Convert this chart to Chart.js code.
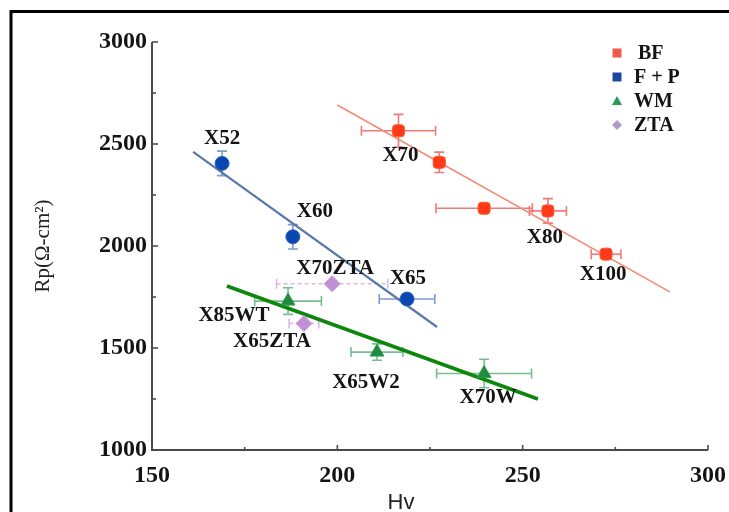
<!DOCTYPE html>
<html><head><meta charset="utf-8">
<script src="https://cdn.jsdelivr.net/npm/chart.js@4"></script>
<style>html,body{margin:0;padding:0;background:#fff;}#wrap{width:729px;height:512px;position:relative;}</style>
</head><body><div id="wrap"><canvas id="c" width="729" height="512"></canvas></div>
<script>
// ---- data ----
const seriesNames = ['BF', 'F + P', 'WM', 'ZTA'];

const bfHv     = [216.5, 227.5, 239.6, 256.8, 272.5];
const bfRp     = [2565, 2410, 2185, 2172, 1960];
const bfHvErr  = [10, 1.5, 13, 5, 4];
const bfRpErr  = [80, 50, 0, 60, 25];
const bfLabels = ['X70', '', '', 'X80', 'X100'];

const fpHv     = [168.9, 188.0, 218.8];
const fpRp     = [2405, 2045, 1740];
const fpHvErr  = [1, 1, 7.5];
const fpRpErr  = [60, 60, 10];
const fpLabels = ['X52', 'X60', 'X65'];

const wmHv     = [186.7, 210.7, 239.6];
const wmRp     = [1730, 1480, 1375];
const wmHvErr  = [9, 7, 12.8];
const wmRpErr  = [65, 40, 70];
const wmLabels = ['X85WT', 'X65W2', 'X70W'];

const ztaHv     = [198.6, 191.0];
const ztaRp     = [1815, 1620];
const ztaHvErr  = [15, 4];
const ztaRpErr  = [0, 0];
const ztaLabels = ['X70ZTA', 'X65ZTA'];

const bfFitHv = [200, 289.7];
const bfFitRp = [2691, 1775];
const fpFitHv = [161.1, 226.9];
const fpFitRp = [2461, 1603];
const wmFitHv = [170.2, 254.1];
const wmFitRp = [1804, 1250];

const xTickValues = [150, 200, 250, 300];
const yTickValues = [1000, 1500, 2000, 2500, 3000];
const xTitle = 'Hv';
const yTitle = 'Rp(Ω-cm²)';

// ---- helpers ----
const pts = (xs, ys) => xs.map((x, i) => ({x, y: ys[i]}));

const labelOffsets = {
  X70: [2, 25], X80: [-3, 27], X100: [-3, 20],
  X52: [0, -25], X60: [22, -25], X65: [1, -20],
  X70ZTA: [3, -15], X85WT: [-54, 14], X65ZTA: [-32, 18],
  X65W2: [-11, 30], X70W: [4, 24]
};

const serif = '"Liberation Serif", "DejaVu Serif", serif';

const markers = [
  {label: seriesNames[0], data: pts(bfHv, bfRp), hvErr: bfHvErr, rpErr: bfRpErr, names: bfLabels,
   pointStyle: 'rectRounded', pointRadius: 7, backgroundColor: '#ff3a1a', borderColor: '#ff5a30',
   errColor: '#f07a78', legendStyle: 'rect', legendColor: '#f05a48'},
  {label: seriesNames[1], data: pts(fpHv, fpRp), hvErr: fpHvErr, rpErr: fpRpErr, names: fpLabels,
   pointStyle: 'circle', pointRadius: 7, backgroundColor: '#0b47b0', borderColor: '#2a62c0',
   errColor: '#7f9acb', legendStyle: 'rect', legendColor: '#1a4aa0'},
  {label: seriesNames[2], data: pts(wmHv, wmRp), hvErr: wmHvErr, rpErr: wmRpErr, names: wmLabels,
   pointStyle: 'triangle', pointRadius: 8, backgroundColor: '#1f8a40', borderColor: '#2f9a50',
   errColor: '#78bd90', legendStyle: 'triangle', legendColor: '#2a9a58'},
  {label: seriesNames[3], data: pts(ztaHv, ztaRp), hvErr: ztaHvErr, rpErr: ztaRpErr, names: ztaLabels,
   pointStyle: 'rectRot', pointRadius: 8, backgroundColor: '#c08fd6', borderColor: '#c89ad8',
   errColor: '#dcb8e6', errDash: [4, 3], legendStyle: 'rectRot', legendColor: '#b49ac8'}
];
markers.forEach(d => { d.type = 'scatter'; d.borderWidth = 1; d.order = 1; d.isMarker = true; });

const fits = [
  {label: 'BF fit', data: pts(bfFitHv, bfFitRp), borderColor: '#f28a78', borderWidth: 1.6},
  {label: 'F+P fit', data: pts(fpFitHv, fpFitRp), borderColor: '#5a78a8', borderWidth: 2.2},
  {label: 'WM fit', data: pts(wmFitHv, wmFitRp), borderColor: '#0c870c', borderWidth: 3.6}
];
fits.forEach(d => { d.type = 'line'; d.showLine = true; d.pointRadius = 0; d.fill = false; d.order = 2; d.tension = 0; });

// ---- plugins ----
const decor = {
  id: 'decor',
  beforeDraw(chart) {
    const ctx = chart.ctx;
    ctx.save();
    ctx.fillStyle = '#ffffff';
    ctx.fillRect(0, 0, chart.width, chart.height);
    ctx.strokeStyle = '#000';
    ctx.lineWidth = 3;
    ctx.beginPath();
    ctx.moveTo(11, chart.height + 2); ctx.lineTo(11, 11.5); ctx.lineTo(chart.width + 2, 11.5);
    ctx.stroke();
    ctx.restore();
  },
  beforeDatasetsDraw(chart) {
    const ctx = chart.ctx, xs = chart.scales.x, ys = chart.scales.y;
    ctx.save();
    const L = chart.chartArea.left, B = chart.chartArea.bottom, T = chart.chartArea.top, R = chart.chartArea.right;
    ctx.strokeStyle = '#4a4a4a';
    ctx.lineWidth = 2;
    ctx.beginPath();
    ctx.moveTo(L, T); ctx.lineTo(L, B); ctx.lineTo(R, B);
    ctx.stroke();
    ctx.lineWidth = 1.6;
    for (let v = ys.min; v <= ys.max; v += 250) {
      const p = ys.getPixelForValue(v), len = (v % 500 === 0) ? 6 : 4;
      ctx.beginPath(); ctx.moveTo(L, p); ctx.lineTo(L + len, p); ctx.stroke();
    }
    for (let v = xs.min; v <= xs.max; v += 25) {
      const p = xs.getPixelForValue(v), len = (v % 50 === 0) ? 5 : 3;
      ctx.beginPath(); ctx.moveTo(p, B); ctx.lineTo(p, B - len); ctx.stroke();
    }
    chart.data.datasets.forEach(ds => {
      if (!ds.isMarker) return;
      ctx.strokeStyle = ds.errColor;
      ctx.lineWidth = 1.6;
      ctx.setLineDash(ds.errDash || []);
      ds.data.forEach((pt, i) => {
        const cx = xs.getPixelForValue(pt.x), cy = ys.getPixelForValue(pt.y);
        const ex = ds.hvErr[i], ey = ds.rpErr[i];
        if (ex > 0) {
          const x1 = xs.getPixelForValue(pt.x - ex), x2 = xs.getPixelForValue(pt.x + ex);
          ctx.beginPath(); ctx.moveTo(x1, cy); ctx.lineTo(x2, cy); ctx.stroke();
          if (x2 - x1 > 10) {
            ctx.setLineDash([]);
            ctx.beginPath(); ctx.moveTo(x1, cy - 5); ctx.lineTo(x1, cy + 5);
            ctx.moveTo(x2, cy - 5); ctx.lineTo(x2, cy + 5); ctx.stroke();
            ctx.setLineDash(ds.errDash || []);
          }
        }
        if (ey > 0) {
          const y1 = ys.getPixelForValue(pt.y + ey), y2 = ys.getPixelForValue(pt.y - ey);
          ctx.setLineDash([]);
          ctx.beginPath(); ctx.moveTo(cx, y1); ctx.lineTo(cx, y2);
          ctx.moveTo(cx - 5, y1); ctx.lineTo(cx + 5, y1);
          ctx.moveTo(cx - 5, y2); ctx.lineTo(cx + 5, y2); ctx.stroke();
          ctx.setLineDash(ds.errDash || []);
        }
      });
      ctx.setLineDash([]);
    });
    ctx.restore();
  },
  afterDatasetsDraw(chart) {
    const ctx = chart.ctx, xs = chart.scales.x, ys = chart.scales.y;
    ctx.save();
    ctx.font = 'bold 21px ' + serif;
    ctx.fillStyle = '#141414';
    ctx.textAlign = 'center';
    ctx.textBaseline = 'middle';
    chart.data.datasets.forEach(ds => {
      if (!ds.isMarker) return;
      ds.data.forEach((pt, i) => {
        const name = ds.names[i];
        if (!name) return;
        const off = labelOffsets[name] || [0, -20];
        ctx.fillText(name, xs.getPixelForValue(pt.x) + off[0], ys.getPixelForValue(pt.y) + off[1]);
      });
    });
    let row = 0;
    chart.data.datasets.forEach(ds => {
      if (!ds.isMarker) return;
      const y = 53 + row * 24, x = 617;
      ctx.fillStyle = ds.legendColor;
      ctx.beginPath();
      if (ds.legendStyle === 'rect') { ctx.rect(x - 4.5, y - 4.5, 9, 9); }
      else if (ds.legendStyle === 'triangle') { ctx.moveTo(x, y - 5); ctx.lineTo(x + 5, y + 4); ctx.lineTo(x - 5, y + 4); ctx.closePath(); }
      else { ctx.moveTo(x, y - 5); ctx.lineTo(x + 5, y); ctx.lineTo(x, y + 5); ctx.lineTo(x - 5, y); ctx.closePath(); }
      ctx.fill();
      ctx.fillStyle = '#141414';
      ctx.font = 'bold 20px ' + serif;
      ctx.textAlign = 'left';
      ctx.fillText(ds.label, row === 0 ? 638 : 634, y + 1);
      row++;
    });
    ctx.font = '22px "Liberation Sans", Arial, sans-serif';
    ctx.fillStyle = '#222';
    ctx.textAlign = 'center';
    ctx.fillText(xTitle, 401, 503);
    ctx.restore();
  }
};

new Chart(document.getElementById('c'), {
  data: { datasets: [...markers, ...fits] },
  options: {
    responsive: false,
    animation: false,
    layout: { padding: { top: 42, right: 21, bottom: 0, left: 0 } },
    plugins: { legend: { display: false }, tooltip: { enabled: false } },
    scales: {
      x: {
        type: 'linear', min: 150, max: 300,
        afterBuildTicks: s => { s.ticks = xTickValues.map(v => ({value: v})); },
        grid: { display: false, drawTicks: false },
        border: { display: false },
        ticks: { color: '#141414', padding: 11, font: { family: serif, size: 24, weight: 'bold' }, maxRotation: 0,
                 callback: v => String(v) },
        afterFit: s => { s.height = 62; s.paddingLeft = 0; s.paddingRight = 0; }
      },
      y: {
        type: 'linear', min: 1000, max: 3000,
        afterBuildTicks: s => { s.ticks = yTickValues.map(v => ({value: v})); },
        grid: { display: false, drawTicks: false },
        border: { display: false },
        ticks: { color: '#141414', padding: 5, font: { family: serif, size: 24, weight: 'bold' },
                 callback: v => String(v) },
        title: { display: true, text: yTitle, color: '#222', font: { family: serif, size: 21 }, padding: { top: 31, bottom: 0 } },
        afterFit: s => { s.width = 152; s.paddingTop = 0; s.paddingBottom = 0; }
      }
    }
  },
  plugins: [decor]
});
</script>
</body></html>
